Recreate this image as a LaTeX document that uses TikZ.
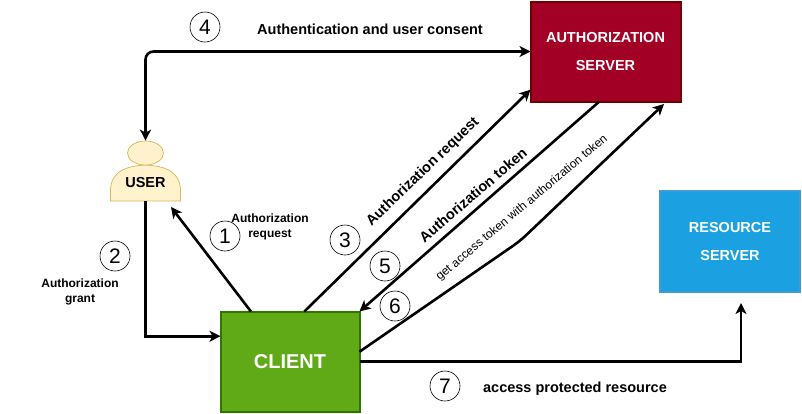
\documentclass[tikz,border=0pt]{standalone}
\usepackage{fontspec}
\setmainfont{Liberation Sans}
\usetikzlibrary{positioning, arrows.meta, shapes.geometric}

\definecolor{authfill}{HTML}{A20025}
\definecolor{authline}{HTML}{6F0000}
\definecolor{clientfill}{HTML}{60A917}
\definecolor{clientline}{HTML}{2D7600}
\definecolor{resfill}{HTML}{1BA1E2}
\definecolor{resline}{HTML}{3F9CD2}
\definecolor{userfill}{HTML}{FFF2CC}
\definecolor{userline}{HTML}{D6B656}

\tikzset{
	party/.style={rectangle, draw, line width=2pt, outer sep=0pt, text=white, align=center, font=\bfseries},
	flow/.style={line width=2.6pt, -{Stealth[length=11pt, width=11pt, inset=3pt]}},
	stepmark/.style={circle, draw, line width=0.6pt, minimum size=30pt, inner sep=0pt, font=\fontsize{21}{21}\selectfont},
	caption/.style={font=\bfseries\fontsize{12}{14.5}\selectfont, align=center, inner sep=0pt},
	slanted/.style={font=\bfseries\fontsize{14.5}{16}\selectfont, inner sep=0pt}
}

\begin{document}
\begin{tikzpicture}[x=1pt, y=-1pt]
	\useasboundingbox (0,0) rectangle (802,413);

	%Servers and client
	\node[party, fill=authfill, draw=authline, minimum width=150pt, minimum height=100pt, font=\bfseries\fontsize{14.5}{28}\selectfont] (auth) at (605.5,51.5){AUTHORIZATION\\SERVER};
	\node[party, fill=clientfill, draw=clientline, minimum width=139pt, minimum height=100pt, font=\bfseries\fontsize{20}{24}\selectfont] (client) at (290,361.5){CLIENT};
	\node[party, fill=resfill, draw=resline, minimum width=140pt, minimum height=101pt, font=\bfseries\fontsize{14.5}{28}\selectfont] (resource) at (730,241.5){RESOURCE\\SERVER};

	%User
	\draw[userline, fill=userfill, line width=0.7pt] (110.5,201) -- (110.5,190) .. controls (111,172) and (125,166) .. (145.5,165) .. controls (166,166) and (180,172) .. (180.5,190) -- (180.5,201) -- cycle;
	\node[ellipse, draw=userline, fill=userfill, line width=0.7pt, minimum width=36pt, minimum height=24pt, inner sep=0pt] (head) at (145.5,153){};
	\node[minimum width=70pt, minimum height=36pt, outer sep=0pt, inner sep=0pt, font=\bfseries\fontsize{14.5}{16}\selectfont] (user) at (145.5,183){USER};

	%Free ends
	\coordinate (userclear) at (171,207);
	\coordinate (authclear) at (664,104);
	\coordinate (bend) at (520,241);
	\coordinate (resclear) at (741,303);

	%Flows
	\draw[flow] (client.128) -- (userclear);
	\draw[flow] (user.south) |- (client.160);
	\draw[flow] (client.74) -- (auth.207);
	\draw[flow, {Stealth[length=11pt, width=11pt, inset=3pt]}-{Stealth[length=11pt, width=11pt, inset=3pt]}, rounded corners=8pt] (auth.west) -| (head.north);
	\draw[flow] (auth.263) -- (client.north east);
	\draw[flow, rounded corners=8pt] (client.8) -- (bend) -- (authclear);
	\draw[flow] (client.east) -| (resclear);

	%Step marks
	\node[stepmark] (one) at (225,236){1};
	\node[stepmark] (two) at (115,256){2};
	\node[stepmark] (three) at (345,240){3};
	\node[stepmark] (four) at (205,27){4};
	\node[stepmark] (five) at (385,266){5};
	\node[stepmark] (six) at (395,306){6};
	\node[stepmark] (seven) at (445,386){7};

	%Labels
	\node[caption] (reqlabel) at (270,227){Authorization\\request};
	\node[caption] (grantlabel) at (80,292){Authorization\\grant};
	\node[caption, font=\bfseries\fontsize{14.5}{16}\selectfont] (consentlabel) at (370,29){Authentication and user consent};
	\node[caption, font=\bfseries\fontsize{14.5}{16}\selectfont] (accesslabel) at (575,389){access protected resource};
	\node[slanted, rotate=44] (reqslant) at (423,172){Authorization request};
	\node[slanted, rotate=40.5] (tokenslant) at (473,195){Authorization token};
	\node[font=\fontsize{12}{14}\selectfont, inner sep=0pt, rotate=40] (getslant) at (522,208){get access token with authorization token};
\end{tikzpicture}
\end{document}
